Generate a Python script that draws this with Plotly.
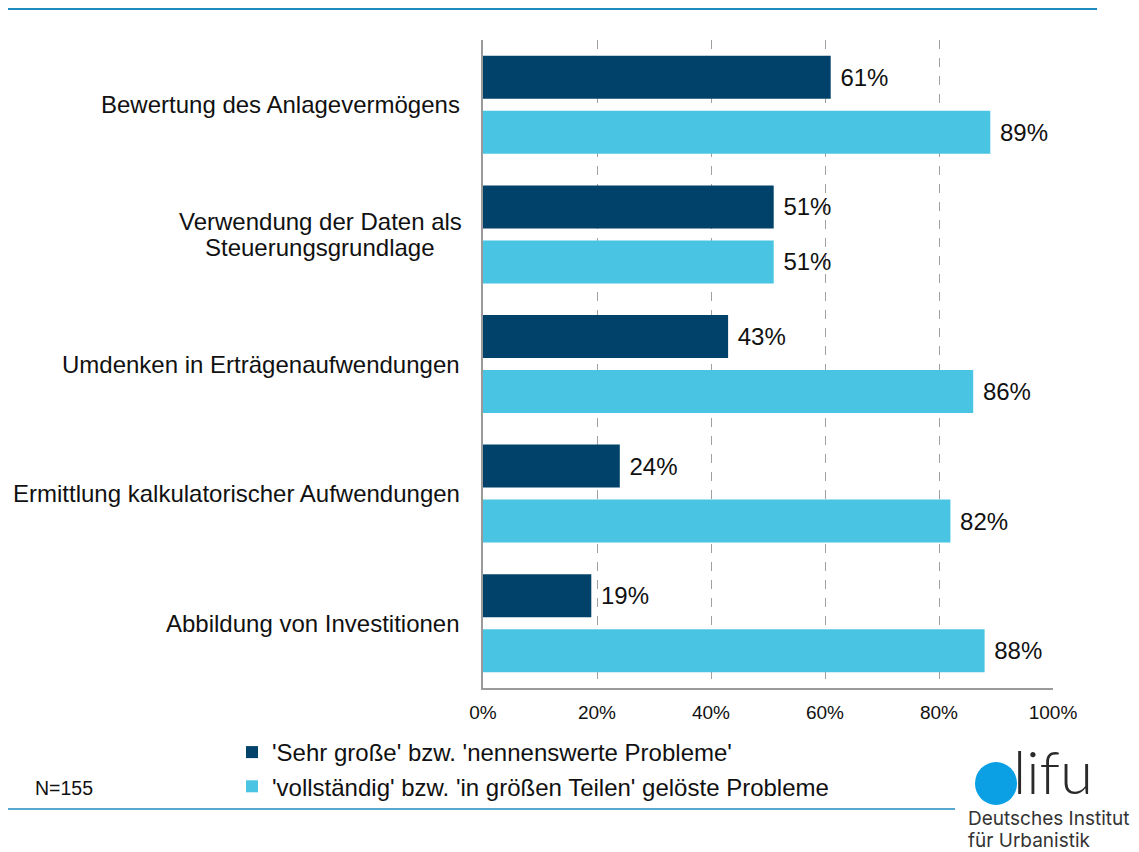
import plotly.graph_objects as go

categories = [
    "Bewertung des Anlagevermögens",
    "Verwendung der Daten als<br>Steuerungsgrundlage",
    "Umdenken in Erträgenaufwendungen",
    "Ermittlung kalkulatorischer Aufwendungen",
    "Abbildung von Investitionen",
]
series_names = [
    "'Sehr große' bzw. 'nennenswerte Probleme'",
    "'vollständig' bzw. 'in größen Teilen' gelöste Probleme",
]
probleme = [61, 51, 43, 24, 19]
geloest = [89, 51, 86, 82, 88]
tick_vals = [0, 20, 40, 60, 80, 100]
tick_text = ["0%", "20%", "40%", "60%", "80%", "100%"]

DARK = "#01426A"
LIGHT = "#49C4E3"
FONT = "Liberation Sans, Arial, sans-serif"

OFF = 8  # page body margin
W, H = 1139 - OFF, 852 - OFF
L_P, R_P, T_P, B_P = 483, 1053, 40, 688  # plot area in page pixels
L, T = L_P - OFF, T_P - OFF
R, B = W - (R_P - OFF), H - (B_P - OFF)
PW, PH = R_P - L_P, B_P - T_P


def px(x):
    return (x - L_P) / PW


def py(y):
    return (B_P - y) / PH


fig = go.Figure()
for name, vals, col, grp in [(series_names[0], probleme, DARK, "a"),
                             (series_names[1], geloest, LIGHT, "b")]:
    fig.add_trace(go.Bar(
        y=categories, x=vals, orientation="h", name=name,
        marker=dict(color=col, line=dict(width=0)),
        text=["\u00a0" + f"{v}%" for v in vals], textposition="outside",
        textfont=dict(family=FONT, size=24, color="#111111"),
        cliponaxis=False, legendgroup=grp,
    ))

LINE_H = 26.7
for c in categories:
    lines = c.split("<br>")
    n = len(lines)
    for i, ln in enumerate(lines):
        shift = ((n - 1) / 2 - i) * LINE_H
        fig.add_annotation(x=px(462) if n == 1 else px(320), xref="paper",
                           y=c, yref="y", text=ln, showarrow=False,
                           xanchor="right" if n == 1 else "center",
                           yshift=shift, align="center",
                           font=dict(family=FONT, size=24, color="#111111"))

fig.update_layout(
    width=W, height=H,
    margin=dict(l=L, r=R, t=T, b=B),
    paper_bgcolor="white", plot_bgcolor="white",
    barmode="group", bargap=0.151, bargroupgap=0.218,
    font=dict(family=FONT, color="#111111"),
    xaxis=dict(range=[0, 100], tickvals=tick_vals, ticktext=tick_text,
               showgrid=True, gridcolor="#a0a0a0", griddash="dash", gridwidth=1,
               showline=True, linecolor="#9a9a9a", linewidth=1.5,
               zeroline=False, ticks="", ticklabelstandoff=6,
               tickfont=dict(family=FONT, size=19, color="#111111")),
    yaxis=dict(autorange="reversed", showticklabels=False, showgrid=False,
               showline=True, linecolor="#9a9a9a", linewidth=1.5, ticks=""),
    legend=dict(x=px(232), y=py(730), xanchor="left", yanchor="top",
                font=dict(family=FONT, size=24, color="#111111"),
                tracegroupgap=0, bgcolor="rgba(0,0,0,0)"),
    showlegend=True,
)

# decorative lines
fig.add_shape(type="line", xref="paper", yref="paper", x0=px(0), x1=px(1097),
              y0=py(9), y1=py(9), line=dict(color="#1F8AC0", width=2))
fig.add_shape(type="line", xref="paper", yref="paper", x0=px(2), x1=px(955),
              y0=py(809), y1=py(809), line=dict(color="#1F8AC0", width=1.5))

fig.add_annotation(x=px(33), y=py(788), xref="paper", yref="paper", text="N=155",
                   showarrow=False, xanchor="left", yanchor="middle",
                   font=dict(family=FONT, size=19.5, color="#111111"))

# logo
fig.add_shape(type="circle", xref="paper", yref="paper",
              x0=px(975), x1=px(1017), y0=py(762), y1=py(805),
              line=dict(width=0), fillcolor="#0B9FE3")
fig.add_annotation(x=px(1011), y=py(809), xref="paper", yref="paper", text="lifu",
                   showarrow=False, xanchor="left", yanchor="bottom",
                   font=dict(family="Lato, sans-serif", size=60, color="#2a2a2a", weight=300))
fig.add_annotation(x=px(966), y=py(818), xref="paper", yref="paper",
                   text="Deutsches Institut", showarrow=False, xanchor="left",
                   yanchor="middle", font=dict(family="Inter, sans-serif", size=19, color="#333333"))
fig.add_annotation(x=px(966), y=py(840), xref="paper", yref="paper",
                   text="für Urbanistik", showarrow=False, xanchor="left",
                   yanchor="middle", font=dict(family="Inter, sans-serif", size=19, color="#333333"))

fig.write_html("out.html")
